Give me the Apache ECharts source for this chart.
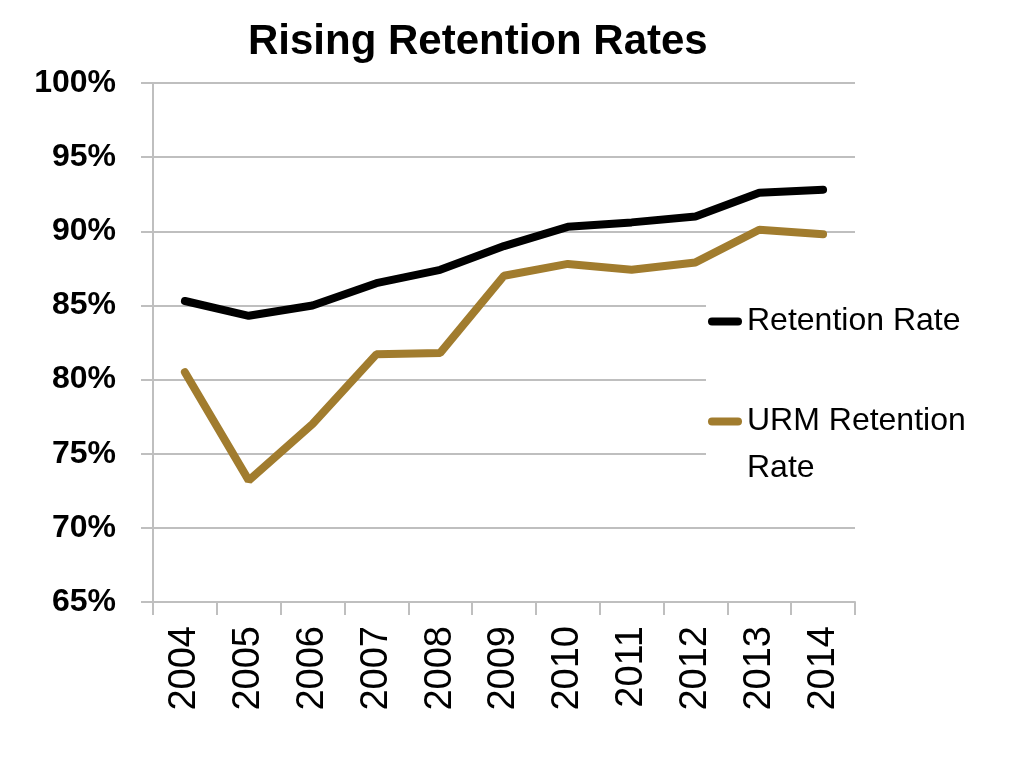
<!DOCTYPE html>
<html>
<head>
<meta charset="utf-8">
<script src="https://cdn.jsdelivr.net/npm/echarts@6/dist/echarts.min.js"></script>
<style>
html,body{margin:0;padding:0;background:#fff;}
#chart{width:1024px;height:768px;}
</style>
</head>
<body>
<div id="chart"></div>
<script>
var years = ['2004','2005','2006','2007','2008','2009','2010','2011','2012','2013','2014'];
var retentionRate = [85.3, 84.3, 85.0, 86.5, 87.4, 89.0, 90.3, 90.6, 91.0, 92.6, 92.8];
var urmRetentionRate = [80.5, 73.2, 77.0, 81.7, 81.8, 87.0, 87.8, 87.4, 87.9, 90.1, 89.8];
var yTicks = {min: 65, max: 100, interval: 5};

var NARROW = "'Liberation Sans Narrow','Arial Narrow','Liberation Sans',Arial,sans-serif";
var chart = echarts.init(document.getElementById('chart'));
var lineIcon = 'path://M4,0 H30 A4,4 0 0 1 30,8 H4 A4,4 0 0 1 4,0 Z';
chart.setOption({
  backgroundColor: '#ffffff',
  animation: false,
  title: {
    text: 'Rising Retention Rates',
    left: 243,
    top: 16,
    textStyle: {fontFamily: NARROW, fontWeight: 'bold', fontSize: 42, color: '#000'}
  },
  grid: {left: 153, right: 169, top: 83, bottom: 166, containLabel: false},
  legend: {
    orient: 'vertical',
    left: 706,
    top: 293,
    padding: [5, 5, 5, 2],
    backgroundColor: '#ffffff',
    itemWidth: 34,
    itemHeight: 8,
    itemGap: 6,
    icon: lineIcon,
    textStyle: {fontFamily: NARROW, fontSize: 32, color: '#000', lineHeight: 47},
    data: [
      {name: 'Retention Rate', itemStyle: {color: '#000000'}},
      {name: 'URM Retention Rate', itemStyle: {color: '#a17c2e'}}
    ],
    formatter: function (n) { return n === 'URM Retention Rate' ? ' \nURM Retention\nRate' : n; }
  },
  xAxis: {
    type: 'category',
    data: years,
    boundaryGap: true,
    axisLine: {lineStyle: {color: '#bfbfbf', width: 2}},
    axisTick: {show: true, length: 13, lineStyle: {color: '#bfbfbf', width: 2}},
    axisLabel: {rotate: 90, margin: 24, fontFamily: NARROW, fontSize: 38, color: '#000'},
    splitLine: {show: false}
  },
  yAxis: {
    type: 'value',
    min: yTicks.min, max: yTicks.max, interval: yTicks.interval,
    axisLine: {show: true, lineStyle: {color: '#bfbfbf', width: 2}},
    axisTick: {show: true, length: 12, lineStyle: {color: '#bfbfbf', width: 2}},
    axisLabel: {margin: 37, fontFamily: NARROW, fontWeight: 'bold', fontSize: 32, color: '#000', formatter: '{value}%'},
    splitLine: {show: true, lineStyle: {color: '#bfbfbf', width: 2}}
  },
  series: [
    {name: 'Retention Rate', type: 'line', data: retentionRate, symbol: 'none',
     lineStyle: {color: '#000000', width: 8, cap: 'round'}, itemStyle: {color: '#000000'}},
    {name: 'URM Retention Rate', type: 'line', data: urmRetentionRate, symbol: 'none',
     lineStyle: {color: '#a17c2e', width: 8, cap: 'round'}, itemStyle: {color: '#a17c2e'}}
  ]
});
</script>
</body>
</html>
